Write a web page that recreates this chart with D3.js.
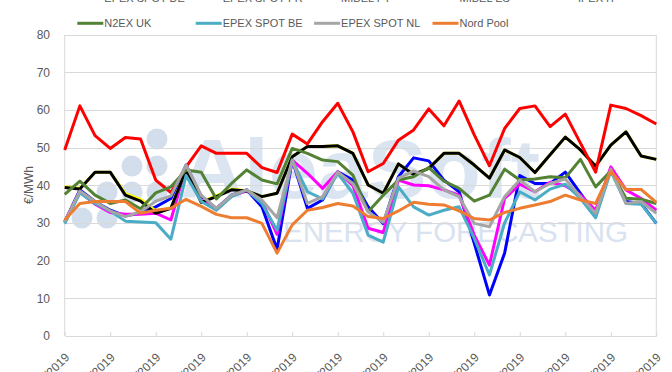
<!DOCTYPE html>
<html>
<head>
<meta charset="utf-8">
<script src="https://cdn.jsdelivr.net/npm/d3@7"></script>
<style>
  body { margin: 0; background: #fff; }
  svg { display: block; }
  text { font-family: "Liberation Sans", Arial, sans-serif; fill: #595959; }
  .legend text { font-family: "Liberation Sans Narrow", "Liberation Sans", Arial, sans-serif; }
</style>
</head>
<body>
<script>
// days shown on the x axis
var dates = ["01/09/2019","02/09/2019","03/09/2019","04/09/2019","05/09/2019","06/09/2019","07/09/2019",
  "08/09/2019","09/09/2019","10/09/2019","11/09/2019","12/09/2019","13/09/2019","14/09/2019",
  "15/09/2019","16/09/2019","17/09/2019","18/09/2019","19/09/2019","20/09/2019","21/09/2019",
  "22/09/2019","23/09/2019","24/09/2019","25/09/2019","26/09/2019","27/09/2019","28/09/2019",
  "29/09/2019","30/09/2019","01/10/2019","02/10/2019","03/10/2019","04/10/2019","05/10/2019",
  "06/10/2019","07/10/2019","08/10/2019","09/10/2019","10/10/2019"];

var yTicks = [0, 10, 20, 30, 40, 50, 60, 70, 80];

// prices in €/MWh
var epexDE  = [30.3, 38.8, 35.7, 33.4, 31.9, 32.6, 34.3, 36.5, 45.4, 37.0, 33.9, 37.4, 38.8, 34.3, 23.0, 46.7, 33.9, 36.1, 43.6, 41.4,
               34.3, 29.9, 42.3, 47.3, 46.5, 41.4, 38.3, 24.6, 10.9, 22.0, 42.6, 40.5, 40.5, 43.5, 37.9, 32.1, 44.5, 35.7, 35.2, 29.9];
var epexFR  = [30.3, 38.3, 35.0, 32.8, 32.3, 32.3, 32.6, 30.8, 44.9, 36.0, 33.5, 37.2, 38.5, 35.8, 27.0, 46.7, 43.2, 39.2, 43.6, 40.0,
               28.6, 27.5, 41.4, 40.1, 39.9, 38.8, 37.4, 26.8, 18.8, 36.5, 40.3, 38.3, 40.8, 39.9, 37.4, 33.4, 44.9, 38.8, 36.5, 33.4];
var mibelPT = [39.6, 39.2, 43.5, 43.5, 37.8, 36.3, 33.2, 34.0, 44.1, 35.6, 37.3, 39.0, 38.6, 37.0, 37.9, 47.6, 50.3, 50.3, 50.5, 48.5,
               40.1, 37.9, 45.7, 42.9, 44.5, 48.5, 48.5, 45.4, 41.9, 49.4, 47.4, 43.4, 48.1, 52.8, 49.4, 45.1, 50.7, 54.2, 47.8, 46.9];
var mibelES = [39.4, 39.0, 43.5, 43.5, 37.4, 35.8, 32.6, 33.9, 44.1, 35.5, 37.0, 38.8, 38.5, 37.0, 37.9, 47.6, 50.3, 50.3, 50.5, 48.5,
               40.1, 37.9, 45.7, 42.9, 44.5, 48.5, 48.5, 45.4, 41.9, 49.4, 47.4, 43.4, 48.1, 52.8, 49.4, 45.1, 50.7, 54.2, 47.8, 46.9];
var ipexIT  = [49.4, 61.1, 53.2, 49.8, 52.7, 52.3, 41.4, 38.1, 44.9, 50.5, 48.5, 48.5, 48.5, 44.7, 43.4, 53.6, 51.0, 56.9, 61.8, 54.2,
               43.6, 45.8, 52.0, 54.7, 60.3, 55.8, 62.4, 53.4, 45.2, 55.1, 60.4, 61.1, 55.6, 58.9, 51.2, 43.5, 61.3, 60.4, 58.5, 56.3];
var n2exUK  = [37.6, 41.1, 37.4, 35.2, 36.1, 33.8, 38.0, 39.6, 44.1, 43.5, 36.4, 40.5, 44.1, 41.4, 40.4, 49.8, 48.5, 46.7, 46.3, 42.7,
               33.0, 37.4, 41.4, 42.3, 44.7, 41.1, 39.2, 35.8, 37.4, 44.3, 41.4, 41.7, 42.3, 42.0, 46.9, 39.6, 43.8, 36.6, 36.3, 35.2];
var epexBE  = [29.8, 38.0, 35.2, 33.2, 30.5, 30.3, 30.1, 25.7, 42.6, 35.7, 33.4, 37.0, 38.8, 35.2, 28.1, 46.7, 38.3, 36.4, 43.2, 37.9,
               26.8, 24.9, 39.6, 34.3, 32.1, 33.4, 34.3, 25.9, 16.2, 30.0, 38.3, 36.1, 39.0, 40.3, 36.5, 31.4, 43.8, 35.2, 35.0, 29.9];
var epexNL  = [30.3, 38.5, 35.7, 33.2, 31.7, 33.0, 35.8, 37.2, 45.4, 37.4, 33.9, 37.4, 38.8, 36.1, 31.4, 46.7, 35.2, 37.0, 43.5, 40.5,
               33.0, 30.2, 41.9, 43.8, 42.3, 38.8, 37.0, 29.9, 29.0, 37.0, 41.4, 38.3, 40.5, 41.7, 37.0, 32.6, 44.3, 35.2, 35.7, 32.6];
var nordPool = [30.8, 35.2, 35.7, 35.7, 35.7, 32.6, 33.4, 33.9, 36.3, 34.4, 32.3, 31.4, 31.4, 29.9, 22.0, 29.5, 33.4, 34.1, 35.2, 34.5,
               31.7, 31.2, 33.2, 35.5, 35.0, 34.8, 33.2, 31.2, 30.8, 32.8, 33.9, 34.8, 35.7, 37.4, 36.1, 35.2, 43.8, 38.9, 38.9, 35.5];

var seriesNames  = ["EPEX SPOT DE", "EPEX SPOT FR", "MIBEL PT", "MIBEL ES", "IPEX IT",
                    "N2EX UK", "EPEX SPOT BE", "EPEX SPOT NL", "Nord Pool"];
var seriesValues = [epexDE, epexFR, mibelPT, mibelES, ipexIT, n2exUK, epexBE, epexNL, nordPool];
var seriesColors = ["#0000ff", "#ff00ff", "#ffff00", "#000000", "#ff0000",
                    "#548235", "#4bacc6", "#a5a5a5", "#ed7d31"];

var W = 672, H = 372;
var plot = {left: 64.7, right: 656.3, top: 34.7, bottom: 336};

var svg = d3.select("body").append("svg")
    .attr("width", W)
    .attr("height", H);

var x = d3.scalePoint().domain(dates).range([plot.left, plot.right]);
var y = d3.scaleLinear().domain([0, 80]).range([plot.bottom, plot.top]);

// watermark behind the plot
var wm = svg.append("g").attr("class", "watermark");
var dots = [[157,139],[132,166],[157,166],[107,192],[132,192],[157,192],[82,218],[107,218]];
wm.selectAll("circle").data(dots).enter().append("circle")
    .attr("cx", d => d[0]).attr("cy", d => d[1]).attr("r", 10.5)
    .attr("fill", "#d3deed");
wm.append("text")
    .attr("x", 180).attr("y", 198)
    .attr("textLength", 360).attr("lengthAdjust", "spacingAndGlyphs")
    .style("font-size", "84px").style("font-weight", "bold")
    .style("fill", "#dbe4f1")
    .text("AleaSoft");
wm.append("text")
    .attr("x", 283).attr("y", 242)
    .attr("textLength", 345).attr("lengthAdjust", "spacingAndGlyphs")
    .style("font-size", "29px")
    .style("fill", "#d8e2f0")
    .text("ENERGY FORECASTING");

// gridlines
svg.append("g")
  .selectAll("line").data(yTicks.slice(1)).enter().append("line")
    .attr("x1", plot.left).attr("x2", plot.right)
    .attr("y1", d => Math.round(y(d)) + 0.5).attr("y2", d => Math.round(y(d)) + 0.5)
    .attr("stroke", "#d9d9d9").attr("stroke-width", 1);

// plot area sides
svg.append("line")
    .attr("x1", plot.left).attr("x2", plot.left).attr("y1", plot.top).attr("y2", plot.bottom)
    .attr("stroke", "#d9d9d9");
svg.append("line")
    .attr("x1", plot.right).attr("x2", plot.right).attr("y1", plot.top).attr("y2", plot.bottom)
    .attr("stroke", "#d9d9d9");

// y axis labels
var yAxis = svg.append("g")
    .attr("transform", "translate(50,0)")
    .call(d3.axisLeft(y).tickValues(yTicks).tickSize(0).tickPadding(0));
yAxis.select(".domain").remove();
yAxis.selectAll("text").style("font-size", "12px").attr("fill", "#595959");

svg.append("text")
    .attr("transform", "translate(33,185) rotate(-90)")
    .attr("text-anchor", "middle")
    .style("font-size", "12px")
    .text("€/MWh");

// x axis
var xAxis = svg.append("g")
    .attr("transform", "translate(0," + plot.bottom + ")")
    .call(d3.axisBottom(x)
        .tickValues(dates.filter((d, i) => i % 3 === 0))
        .tickSizeInner(-4).tickSizeOuter(0));
xAxis.select(".domain").attr("stroke", "#d9d9d9");
xAxis.selectAll(".tick line").attr("stroke", "#d9d9d9");
xAxis.selectAll("text")
    .style("font-size", "12px")
    .attr("fill", "#595959")
    .attr("text-anchor", "end")
    .attr("y", 0).attr("dy", 0)
    .attr("transform", "translate(5,22) rotate(-45)");

// lines
var line = d3.line()
    .x((d, i) => x(dates[i]))
    .y(d => y(d));

svg.append("g").selectAll("path")
    .data(seriesValues).enter().append("path")
    .attr("fill", "none")
    .attr("stroke", (d, i) => seriesColors[i])
    .attr("stroke-width", 3)
    .attr("stroke-linejoin", "round")
    .attr("d", line);

// legend, 5 columns, two rows
var legend = svg.append("g").attr("class", "legend");
var item = legend.selectAll("g").data(seriesNames).enter().append("g")
    .attr("transform", (d, i) => "translate(" + (77.3 + (i % 5) * 118.4) + "," + (i < 5 ? -2.3 : 23.3) + ")");
item.append("line")
    .attr("x1", 0).attr("x2", 26)
    .attr("stroke", (d, i) => seriesColors[i])
    .attr("stroke-width", 3);
item.append("text")
    .attr("x", 27).attr("dy", "0.35em")
    .style("font-size", "11px")
    .text(d => d);
</script>
</body>
</html>
